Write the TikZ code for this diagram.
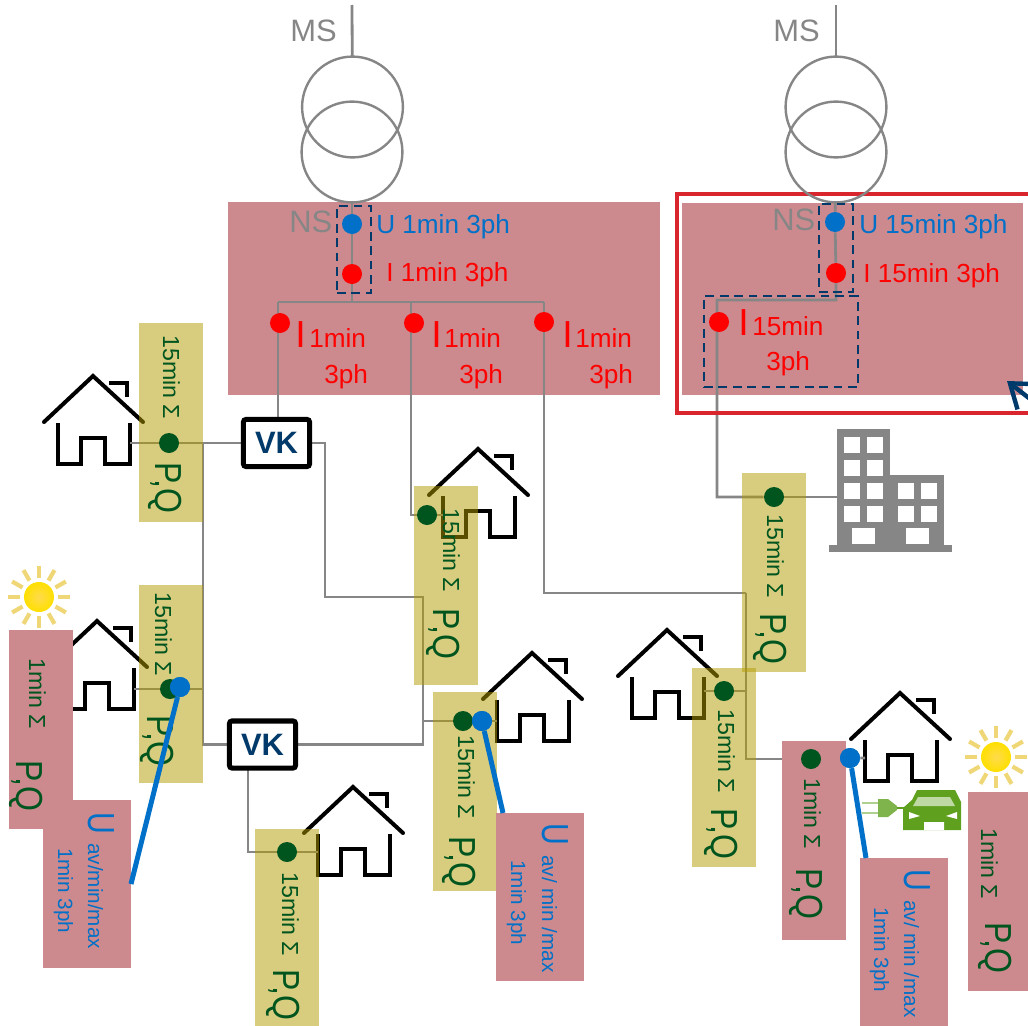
\documentclass[tikz,border=0pt]{standalone}
\usepackage{fontspec}
\setmainfont{Liberation Sans}
\usetikzlibrary{arrows.meta,positioning}
\definecolor{rosebox}{HTML}{CC8A8E}
\definecolor{goldbox}{HTML}{B29A00}
\definecolor{framered}{HTML}{D9262E}
\definecolor{meterblue}{HTML}{0070C8}
\definecolor{meterred}{HTML}{FF0000}
\definecolor{metergreen}{HTML}{00551F}
\definecolor{netgray}{HTML}{868686}
\definecolor{navy}{HTML}{003A6B}
\definecolor{evgreen}{HTML}{5FA01E}
\definecolor{sunray}{HTML}{EFD778}
\pgfdeclarelayer{plate}
\pgfdeclarelayer{wirelayer}
\pgfsetlayers{plate,wirelayer,main}
\newcommand{\fs}[1]{\fontsize{#1}{#1}\selectfont}
\newcommand{\pqtext}{\scalebox{.85}[1]{\fs{26.8}P,Q}}
\newcommand{\utext}{\scalebox{.8}[1]{\fs{26.8}U}}
\tikzset{
  house/.pic={
    \draw[black,line width=1mm,line cap=round,line join=miter] (-49,46)--(0,0)--(50,46);
    \draw[black,line width=1mm,line join=miter] (-35,47)--(-35,88)--(-12,88)--(-12,62)--(12,62)--(12,88)--(37,88)--(37,47);
    \draw[black,line width=1mm,line join=miter] (16,7)--(34,7)--(34,21);
    \coordinate (-l) at (-35,66);
    \coordinate (-r) at (37,66);
  },
  sun/.pic={
    \foreach \a in {0,30,...,330}
      \draw[sunray,line width=1.05mm] (\a:19)--(\a:31);
    \shade[inner color=yellow!60!orange!70!white,outer color=yellow!75!orange] (0,0) circle (15);
  }
}
\begin{document}
\begin{tikzpicture}[x=.025cm,y=-.025cm,>=Stealth,
  yelbox/.style={rectangle,fill=goldbox,fill opacity=.5,inner sep=0,outer sep=0,minimum width=16mm,minimum height=49.5mm},
  rosecol/.style={rectangle,fill=rosebox,inner sep=0,outer sep=0,minimum width=16mm,minimum height=49.5mm},
  rosewide/.style={rectangle,fill=rosebox,inner sep=0,outer sep=0,minimum width=22mm,minimum height=42mm},
  wire/.style={netgray,line width=.7mm},
  tapline/.style={meterblue,line width=1.25mm},
  dot/.style={circle,inner sep=0,minimum size=5mm},
  greendot/.style={dot,fill=metergreen},
  bluedot/.style={dot,fill=meterblue},
  reddot/.style={dot,fill=meterred},
  trafo/.style={circle,draw=netgray,line width=.6mm,inner sep=0,outer sep=0,minimum size=25.2mm},
  meterframe/.style={rectangle,draw=navy,line width=.6mm,dash pattern=on 2.2mm off 1.4mm,inner sep=0,outer sep=0},
  vkbox/.style={rectangle,draw=black,fill=white,line width=1.25mm,rounded corners=.6mm,inner sep=0,minimum width=16.5mm,minimum height=11.75mm,text=navy,font=\fs{22}\bfseries},
  lab/.style={anchor=base west,inner sep=0},
  vlab/.style={rotate=-90,anchor=base west,inner sep=0},
  netlab/.style={lab,text=netgray,font=\fs{22}},
  ulab/.style={lab,text=meterblue,font=\fs{18.6}},
  ilab/.style={lab,text=meterred,font=\fs{18.6}},
  bigi/.style={lab,text=meterred,font=\fs{26.8}},
  sumlab/.style={vlab,text=metergreen,font=\fs{16.5}},
  pqlab/.style={vlab,text=metergreen},
  uvlab/.style={vlab,text=meterblue,font=\fs{14.7}}]
\clip (0,0) rectangle (1028,1026);

\begin{pgfonlayer}{plate}
\node[rectangle,fill=rosebox,minimum width=108mm,minimum height=48.25mm,inner sep=0] (plate1) at (444,298.5) {};
\node[rectangle,fill=rosebox,minimum width=85.25mm,minimum height=48mm,inner sep=0] (plate2) at (852.5,299) {};
\end{pgfonlayer}

\foreach \n/\cx/\cy in {1/171/422.5,2/171/684,3/446/585.5,4/774/572.5,5/465/791.5,6/724/767.5,7/287/928}
  \node[yelbox] (y\n) at (\cx,\cy) {};
\foreach \n/\cx/\cy in {1/41/729.5,4/814/840.5,6/1000/891.5}
  \node[rosecol] (p\n) at (\cx,\cy) {};
\foreach \n/\cx/\cy in {2/87/884,3/540/897,5/904/942}
  \node[rosewide] (p\n) at (\cx,\cy) {};

\node[rectangle,draw=framered,line width=1.15mm,minimum width=90.75mm,minimum height=54.75mm,inner sep=0] (frame) at (858.5,303.5) {};

\node[trafo] (t1a) at (352.5,107) {};
\node[trafo] (t1b) at (352,152) {};
\node[trafo] (t2a) at (836,107) {};
\node[trafo] (t2b) at (836,152) {};
\coordinate (ms1) at (352,5);
\coordinate (ms2) at (836,5);
\node[netlab] (msl1) at (290,42) {MS};
\node[netlab] (msl2) at (773,42) {MS};
\node[netlab] (nsl1) at (289,232) {NS};
\node[netlab] (nsl2) at (772,230) {NS};

\node[meterframe,minimum width=8.5mm,minimum height=21.75mm] (mf1) at (354,249.5) {};
\node[meterframe,minimum width=8.5mm,minimum height=22mm] (mf2) at (836,248) {};
\node[meterframe,minimum width=38.5mm,minimum height=22.75mm] (mf3) at (781,341.5) {};

\node[bluedot] (ub1) at (352,224) {};
\node[reddot] (ib1) at (352,274) {};
\node[reddot] (il1) at (280,323) {};
\node[reddot] (il2) at (414,323) {};
\node[reddot] (il3) at (544,322) {};
\node[bluedot] (ub2) at (835,222) {};
\node[reddot] (ib2) at (836,273) {};
\node[reddot] (il4) at (719,322) {};

\node[ulab] (ut1) at (376,233) {U 1min 3ph};
\node[ilab] (it1) at (386,281) {I 1min 3ph};
\node[ulab] (ut2) at (859,233) {U 15min 3ph};
\node[ilab] (it2) at (863,282) {I 15min 3ph};
\foreach \n/\ix/\mx/\tx in {1/295/309/324,2/431/444/459,3/562/575/589}{
  \node[bigi] (bi\n) at (\ix,347) {I};
  \node[ilab] (mi\n) at (\mx,347) {1min};
  \node[ilab] (ph\n) at (\tx,383) {3ph};
}
\node[bigi] (bi4) at (738,335) {I};
\node[ilab] (mi4) at (752,335) {15min};
\node[ilab] (ph4) at (766,370) {3ph};

\node[vkbox] (vk1) at (276.5,443) {VK};
\node[vkbox] (vk2) at (262.5,744.5) {VK};

\foreach \n/\sx/\sy/\qx/\qy in {1/163/335/155/462,2/155/592/147/715,3/443/508/433/608,4/767/514/760/613,5/458/735/449/836,6/718/709/711/808,7/282/872/273/969}{
  \node[sumlab] (ys\n) at (\sx,\sy) {15min Σ};
  \node[pqlab] (yq\n) at (\qx,\qy) {\pqtext};
}
\foreach \n/\sx/\sy/\qx/\qy in {1/29/658/17/760,4/804/778/796/868,6/981/828/985/922}{
  \node[sumlab] (ps\n) at (\sx,\sy) {1min Σ};
  \node[pqlab] (pq\n) at (\qx,\qy) {\pqtext};
}
\node[vlab,text=meterblue] (pu2) at (88,812) {\utext};
\node[uvlab] (pa2) at (88,843) {av/min/max};
\node[uvlab] (pm2) at (58,848) {1min 3ph};
\node[vlab,text=meterblue] (pu3) at (542,823) {\utext};
\node[uvlab] (pa3) at (542,855) {av/ min /max};
\node[uvlab] (pm3) at (511,860) {1min 3ph};
\node[vlab,text=meterblue] (pu5) at (904,869) {\utext};
\node[uvlab] (pa5) at (904,900) {av/ min /max};
\node[uvlab] (pm5) at (874,907) {1min 3ph};

\node[greendot] (gd1) at (169,443) {};
\node[greendot] (gd2) at (170,689) {};
\node[greendot] (gd3) at (427,515) {};
\node[greendot] (gd4) at (774,497) {};
\node[greendot] (gd5) at (463,721) {};
\node[greendot] (gd6) at (724,691) {};
\node[greendot] (gd7) at (287,852) {};
\node[greendot] (gd8) at (811,759) {};
\node[bluedot] (ud1) at (180,687) {};
\node[bluedot] (ud2) at (482,721) {};
\node[bluedot] (ud3) at (850,758) {};

\pic at (39,597) {sun};
\pic at (996,757) {sun};

\draw[evgreen!50!white,line width=.7mm] (862,803)--(878,803) (862,813)--(878,813);
\fill[evgreen!80!white] (878,799)--(888,799)--(897,806)--(897,810)--(888,817)--(878,817)--cycle;
\draw[evgreen,line width=.6mm] (897,808)--(908,808);
\fill[evgreen] (903,830)--(903,808)--(912,800)--(917,790)--(955,790)--(961,802)--(961,830)--cycle;
\fill[evgreen!40!white] (918,797)--(950,797)--(955,806)--(913,806)--cycle;
\fill[white] (909,812)--(920,816)--(909,819)--cycle (957,812)--(946,816)--(957,819)--cycle (924,822) rectangle (944,830);

\fill[netgray] (837,429) rectangle (890,545);
\fill[netgray] (890,475) rectangle (944,545);
\fill[netgray] (829,545) rectangle (952,552);
\foreach \wy in {437,460,483,506}
  \foreach \wx in {844,867}
    \fill[white] (\wx,\wy) rectangle ++(16,15.5);
\foreach \wy in {483,506}
  \foreach \wx in {898,921}
    \fill[white] (\wx,\wy) rectangle ++(16,15.5);
\fill[white] (852,528) rectangle ++(23,16);
\fill[white] (906,528) rectangle ++(23,16);
\coordinate (bld) at (837,497);

\begin{pgfonlayer}{wirelayer}
\pic (h1) at (93,376) {house};
\pic (h2) at (478,449) {house};
\pic (h3) at (97,621) {house};
\pic (h4) at (353,787) {house};
\pic (h5) at (532,653) {house};
\pic (h6) at (667,630) {house};
\pic (h7) at (900,693) {house};

\coordinate (j1) at (352,302);
\coordinate (jl) at (278,302);
\coordinate (jm) at (411,302);
\coordinate (jr) at (544,302);
\coordinate (j2) at (836,300);
\coordinate (j3) at (717,300);
\coordinate (c1) at (203,443);
\coordinate (b2) at (325,597);
\coordinate (b4) at (423,744.5);
\coordinate (k2) at (746,593);
\coordinate (v1) at (248,770);

\draw[wire] (ms1)--(t1a);
\draw[wire] (ms2)--(t2a);
\draw[wire] (t1b)--(ub1)--(ib1)--(j1);
\draw[wire] (t2b)--(ub2)--(ib2)--(j2)--(j3)|-(gd4);
\draw[wire] (jl)--(jr);
\draw[wire] (jl)--(jl |- vk1.north);
\draw[wire] (jm)|-(gd3);
\draw[wire] (jr)|-(k2);
\draw[wire] (k2)|-(gd8);
\draw[wire] (gd4)--(bld);
\draw[wire] (h1-r |- gd1)--(gd1)--(vk1.west);
\draw[wire] (c1)|-(vk2.west);
\draw[wire] (h3-r |- gd2)--(gd2)--(gd2 -| c1);
\draw[wire] (vk1.east)-|(b2)-|(b4)--(vk2.east);
\draw[wire] (gd5)--(gd5 -| b4);
\draw[wire] (gd5)--(ud2)--(h5-l |- ud2);
\draw[wire] (v1)|-(gd7);
\draw[wire] (gd7)--(h4-l |- gd7);
\draw[wire] (gd3)--(h2-l |- gd3);
\draw[wire] (h6-r |- gd6)--(gd6)--(gd6 -| k2);
\draw[wire] (gd8)--(ud3)--(h7-l |- ud3);
\end{pgfonlayer}

\coordinate (tp3) at (503,813);
\coordinate (tp5) at (866,858);
\draw[tapline] (ud1)--(p2.east);
\draw[tapline] (ud2)--(tp3);
\draw[tapline] (ud3)--(tp5);
\node[bluedot] (ue1) at (ud1) {};
\node[bluedot] (ue2) at (ud2) {};
\node[bluedot] (ue3) at (ud3) {};

\coordinate (arrowtip) at (1007,381);
\coordinate (arrowtail) at (1070,430);
\draw[navy,line width=1.1mm,-{Straight Barb[length=5.5mm,width=8mm,line width=1.1mm]}] (arrowtail)--(arrowtip);
\end{tikzpicture}
\end{document}
